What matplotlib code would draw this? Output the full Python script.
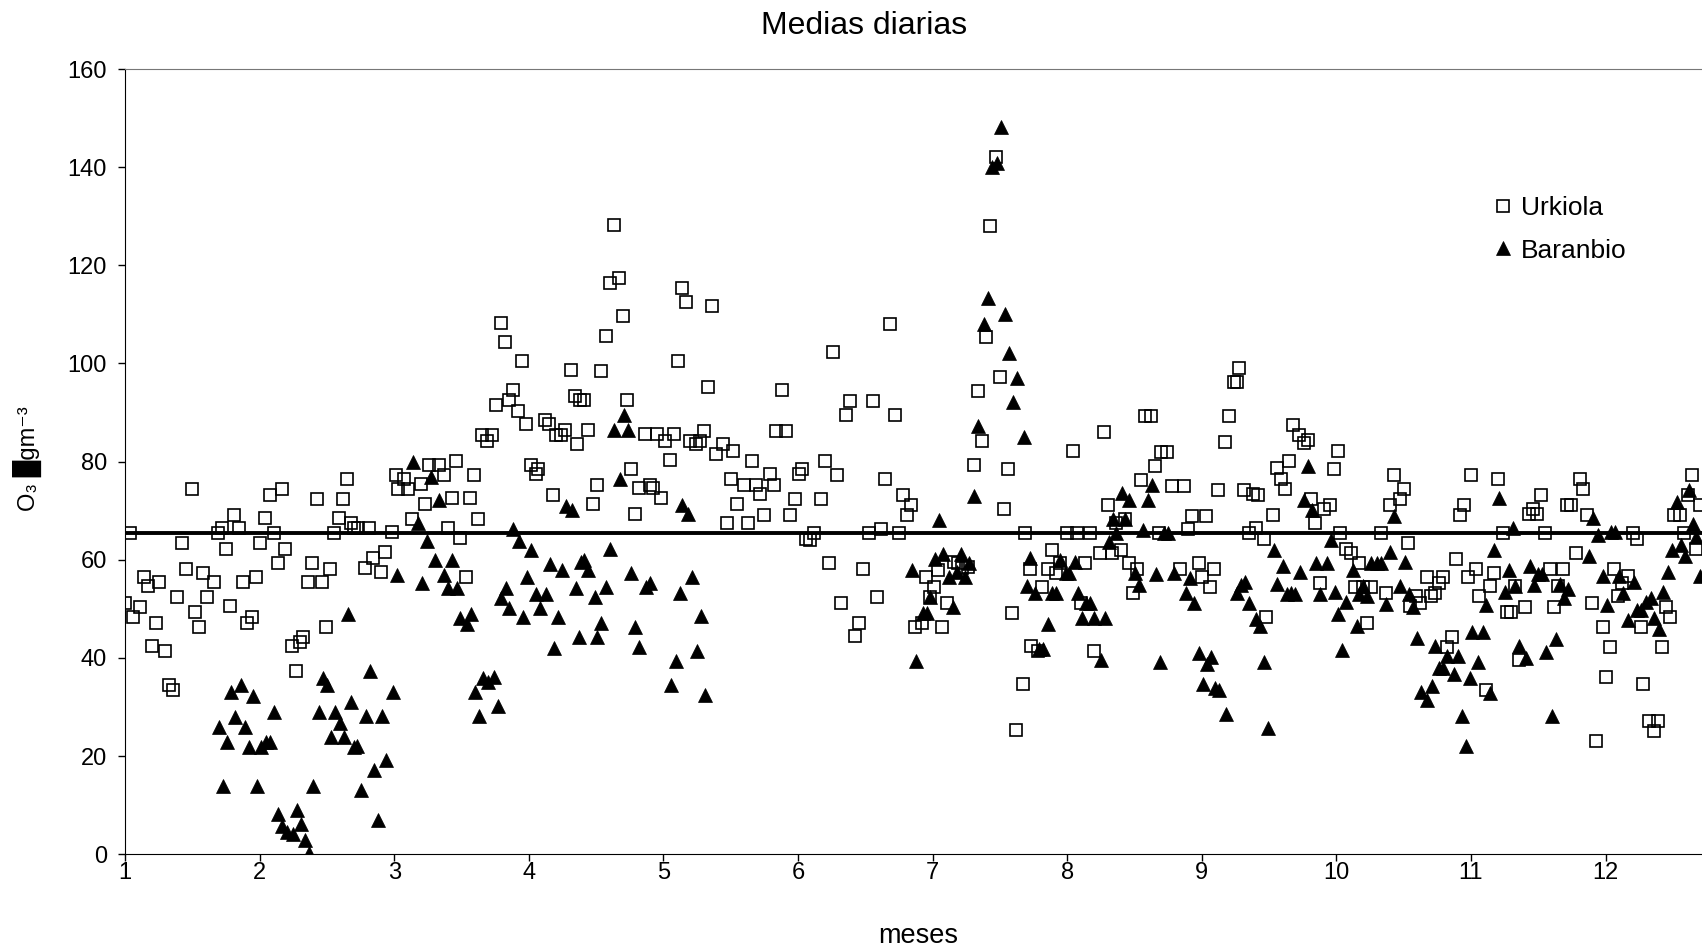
import numpy as np
import matplotlib
matplotlib.use("Agg")
import matplotlib.pyplot as plt

plt.rcParams['font.family'] = ['Liberation Sans', 'DejaVu Sans']

# Urkiola (cuadrados): mes (decimal) y O3 diario
urk_mes = [1.00, 1.04, 1.06, 1.11, 1.14, 1.17, 1.20, 1.23, 1.25, 1.30, 1.33, 1.36, 1.39, 1.42, 1.45,
           1.50, 1.52, 1.55, 1.58, 1.61, 1.66, 1.69, 1.72, 1.75, 1.78, 1.81, 1.85, 1.88, 1.91, 1.94,
           1.97, 2.00, 2.04, 2.08, 2.11, 2.14, 2.17, 2.19, 2.24, 2.27, 2.30, 2.32, 2.36, 2.39, 2.43,
           2.46, 2.49, 2.52, 2.55, 2.59, 2.62, 2.65, 2.68, 2.70, 2.73, 2.78, 2.81, 2.84, 2.90, 2.93,
           2.98, 3.01, 3.03, 3.07, 3.10, 3.13, 3.20, 3.23, 3.26, 3.33, 3.37, 3.40, 3.43, 3.46, 3.49,
           3.53, 3.56, 3.59, 3.62, 3.65, 3.69, 3.73, 3.76, 3.79, 3.82, 3.85, 3.88, 3.92, 3.95, 3.98,
           4.02, 4.05, 4.07, 4.12, 4.15, 4.18, 4.20, 4.24, 4.27, 4.31, 4.34, 4.36, 4.38, 4.41, 4.44,
           4.48, 4.51, 4.54, 4.57, 4.60, 4.63, 4.67, 4.70, 4.73, 4.76, 4.79, 4.82, 4.86, 4.90, 4.92,
           4.95, 4.98, 5.01, 5.05, 5.08, 5.11, 5.14, 5.17, 5.20, 5.24, 5.27, 5.30, 5.33, 5.36, 5.39,
           5.44, 5.47, 5.50, 5.52, 5.55, 5.60, 5.63, 5.66, 5.69, 5.72, 5.75, 5.79, 5.82, 5.84, 5.88,
           5.91, 5.94, 5.98, 6.01, 6.03, 6.06, 6.09, 6.12, 6.17, 6.20, 6.23, 6.26, 6.29, 6.32, 6.36,
           6.39, 6.42, 6.45, 6.48, 6.53, 6.56, 6.59, 6.62, 6.65, 6.68, 6.72, 6.75, 6.78, 6.81, 6.84,
           6.87, 6.92, 6.95, 6.98, 7.01, 7.04, 7.07, 7.11, 7.16, 7.19, 7.22, 7.26, 7.31, 7.34, 7.37,
           7.40, 7.43, 7.47, 7.50, 7.53, 7.56, 7.59, 7.62, 7.67, 7.69, 7.72, 7.73, 7.78, 7.81, 7.86,
           7.89, 7.92, 7.95, 8.00, 8.04, 8.07, 8.10, 8.13, 8.17, 8.20, 8.24, 8.27, 8.30, 8.33, 8.36,
           8.40, 8.43, 8.46, 8.49, 8.52, 8.55, 8.58, 8.62, 8.65, 8.68, 8.70, 8.74, 8.78, 8.84, 8.87,
           8.90, 8.93, 8.98, 9.00, 9.03, 9.06, 9.09, 9.12, 9.17, 9.20, 9.24, 9.26, 9.28, 9.31, 9.35,
           9.38, 9.40, 9.42, 9.46, 9.48, 9.53, 9.56, 9.59, 9.62, 9.65, 9.68, 9.72, 9.76, 9.79, 9.81,
           9.84, 9.88, 9.91, 9.95, 9.98, 10.01, 10.03, 10.07, 10.11, 10.14, 10.17, 10.20, 10.23, 10.26, 10.33,
           10.37, 10.40, 10.43, 10.47, 10.50, 10.53, 10.55, 10.59, 10.62, 10.67, 10.70, 10.73, 10.76, 10.79, 10.82,
           10.86, 10.89, 10.92, 10.95, 10.98, 11.00, 11.04, 11.06, 11.11, 11.14, 11.17, 11.20, 11.24, 11.27, 11.30,
           11.33, 11.36, 11.40, 11.43, 11.46, 11.49, 11.52, 11.55, 11.59, 11.62, 11.65, 11.68, 11.71, 11.74, 11.78,
           11.81, 11.83, 11.86, 11.90, 11.93, 11.98, 12.00, 12.03, 12.06, 12.09, 12.12, 12.17, 12.20, 12.23, 12.26,
           12.28, 12.32, 12.36, 12.39, 12.42, 12.45, 12.48, 12.51, 12.55, 12.58, 12.61, 12.64, 12.67, 12.70]
urk_o3 = [51.3, 65.5, 48.4, 50.4, 56.5, 54.6, 42.4, 47.1, 55.4, 41.4, 34.5, 33.4, 52.4, 63.4, 58.2,
          74.5, 49.3, 46.3, 57.4, 52.4, 55.4, 65.5, 66.5, 62.2, 50.5, 69.2, 66.5, 55.4, 47.2, 48.4,
          56.5, 63.4, 68.5, 73.3, 65.5, 59.4, 74.5, 62.2, 42.4, 37.3, 43.3, 44.3, 55.4, 59.4, 72.4,
          55.4, 46.3, 58.2, 65.5, 68.5, 72.4, 76.5, 67.5, 66.5, 66.5, 58.4, 66.5, 60.3, 57.5, 61.5,
          65.6, 77.3, 74.5, 76.4, 74.5, 68.4, 75.4, 71.3, 79.4, 79.4, 77.3, 66.5, 72.5, 80.2, 64.4,
          56.5, 72.5, 77.3, 68.4, 85.5, 84.3, 85.5, 91.6, 108.3, 104.3, 92.5, 94.5, 90.4, 100.5, 87.6,
          79.4, 77.5, 78.5, 88.5, 87.6, 73.3, 85.5, 85.5, 86.4, 98.6, 93.3, 83.5, 92.5, 92.5, 86.4,
          71.3, 75.3, 98.5, 105.5, 116.5, 128.3, 117.4, 109.6, 92.5, 78.6, 69.3, 74.6, 85.6, 75.3, 74.6,
          85.6, 72.5, 84.2, 80.3, 85.6, 100.5, 115.3, 112.5, 84.2, 83.5, 84.2, 86.3, 95.2, 111.7, 81.5,
          83.5, 67.6, 76.5, 82.2, 71.3, 75.3, 67.6, 80.1, 75.3, 73.4, 69.1, 77.4, 75.3, 86.3, 94.5,
          86.3, 69.1, 72.4, 77.4, 78.6, 64.3, 64.1, 65.5, 72.3, 80.1, 59.3, 102.4, 77.2, 51.3, 89.6,
          92.3, 44.5, 47.2, 58.1, 65.5, 92.3, 52.5, 66.3, 76.4, 108.1, 89.6, 65.5, 73.3, 69.2, 71.1,
          46.3, 47.2, 56.6, 52.5, 54.4, 57.9, 46.3, 51.3, 59.5, 59.3, 58.3, 58.5, 79.3, 94.3, 84.2,
          105.3, 128.1, 142.1, 97.2, 70.4, 78.5, 49.2, 25.3, 34.6, 65.5, 58.1, 42.4, 41.4, 54.4, 58.1,
          62.1, 57.4, 59.3, 65.5, 82.2, 65.5, 51.1, 59.3, 65.5, 41.4, 61.4, 86.1, 71.1, 61.4, 67.4,
          62.1, 68.4, 59.3, 53.2, 58.1, 76.3, 89.4, 89.4, 79.2, 65.5, 82.0, 82.0, 75.1, 58.1, 75.1,
          66.2, 69.0, 59.3, 56.4, 69.0, 54.4, 58.1, 74.3, 84.1, 89.4, 96.3, 96.3, 99.1, 74.3, 65.5,
          73.5, 66.4, 73.2, 64.3, 48.4, 69.2, 78.7, 76.5, 74.5, 80.2, 87.5, 85.5, 83.7, 84.4, 72.3,
          67.5, 55.3, 70.4, 71.2, 78.5, 82.2, 65.5, 62.2, 61.4, 54.5, 59.4, 54.5, 47.2, 54.5, 65.5,
          53.3, 71.2, 77.3, 72.4, 74.5, 63.5, 50.6, 52.6, 51.2, 56.5, 52.6, 53.3, 55.3, 56.5, 42.3,
          44.3, 60.2, 69.2, 71.2, 56.5, 77.3, 58.2, 52.6, 33.5, 54.6, 57.4, 76.5, 65.5, 49.3, 49.3,
          54.6, 39.6, 50.4, 69.3, 70.4, 69.3, 73.2, 65.5, 58.2, 50.4, 54.6, 58.2, 71.2, 71.2, 61.4,
          76.5, 74.5, 69.2, 51.2, 23.1, 46.4, 36.2, 42.3, 58.2, 52.6, 55.3, 56.7, 65.5, 64.3, 46.4,
          34.6, 27.2, 25.2, 27.2, 42.3, 50.4, 48.4, 69.2, 69.2, 65.5, 73.2, 77.3, 62.2, 71.2]

# Baranbio (triangulos)
bar_mes = [1.70, 1.73, 1.76, 1.79, 1.82, 1.86, 1.89, 1.92, 1.95, 1.98, 2.01, 2.05, 2.08, 2.11, 2.14,
           2.17, 2.20, 2.25, 2.28, 2.31, 2.34, 2.37, 2.40, 2.44, 2.47, 2.50, 2.53, 2.56, 2.60, 2.63,
           2.66, 2.68, 2.70, 2.72, 2.75, 2.79, 2.82, 2.85, 2.88, 2.91, 2.94, 2.99, 3.02, 3.14, 3.18,
           3.21, 3.24, 3.27, 3.30, 3.33, 3.37, 3.40, 3.43, 3.47, 3.49, 3.54, 3.57, 3.60, 3.63, 3.66,
           3.70, 3.74, 3.77, 3.79, 3.83, 3.85, 3.88, 3.93, 3.96, 3.99, 4.02, 4.05, 4.08, 4.13, 4.16,
           4.19, 4.22, 4.25, 4.28, 4.32, 4.35, 4.37, 4.39, 4.41, 4.44, 4.49, 4.51, 4.54, 4.57, 4.60,
           4.63, 4.68, 4.71, 4.74, 4.76, 4.79, 4.82, 4.87, 4.90, 5.06, 5.09, 5.12, 5.14, 5.18, 5.21,
           5.25, 5.28, 5.31, 6.85, 6.88, 6.93, 6.96, 6.98, 7.02, 7.05, 7.08, 7.12, 7.15, 7.18, 7.21,
           7.24, 7.27, 7.31, 7.34, 7.38, 7.41, 7.44, 7.48, 7.51, 7.54, 7.57, 7.60, 7.63, 7.68, 7.70,
           7.72, 7.76, 7.79, 7.82, 7.86, 7.89, 7.92, 7.95, 7.99, 8.01, 8.06, 8.08, 8.11, 8.14, 8.17,
           8.20, 8.25, 8.28, 8.31, 8.34, 8.36, 8.41, 8.43, 8.46, 8.50, 8.53, 8.56, 8.60, 8.63, 8.66,
           8.69, 8.72, 8.75, 8.79, 8.88, 8.91, 8.94, 8.98, 9.01, 9.04, 9.07, 9.10, 9.13, 9.18, 9.26,
           9.29, 9.32, 9.35, 9.40, 9.43, 9.46, 9.49, 9.54, 9.56, 9.60, 9.63, 9.66, 9.69, 9.73, 9.76,
           9.79, 9.82, 9.85, 9.88, 9.93, 9.96, 9.99, 10.01, 10.04, 10.07, 10.12, 10.15, 10.17, 10.20, 10.23,
           10.26, 10.30, 10.33, 10.37, 10.40, 10.43, 10.47, 10.51, 10.54, 10.57, 10.60, 10.63, 10.67, 10.71, 10.73,
           10.76, 10.79, 10.82, 10.87, 10.90, 10.93, 10.96, 10.99, 11.01, 11.05, 11.09, 11.11, 11.14, 11.17, 11.21,
           11.25, 11.28, 11.31, 11.33, 11.36, 11.41, 11.44, 11.47, 11.50, 11.53, 11.56, 11.60, 11.63, 11.66, 11.69,
           11.72, 11.88, 11.91, 11.94, 11.98, 12.01, 12.04, 12.07, 12.10, 12.13, 12.17, 12.21, 12.23, 12.26, 12.30,
           12.34, 12.36, 12.40, 12.43, 12.46, 12.49, 12.53, 12.56, 12.59, 12.62, 12.65, 12.67, 12.70]
bar_o3 = [26.0, 13.9, 22.8, 33.0, 28.0, 34.4, 26.0, 21.9, 32.3, 13.9, 21.9, 22.8, 22.8, 28.9, 8.2,
          5.8, 4.6, 4.1, 9.0, 6.1, 2.9, 0.2, 13.9, 28.9, 35.9, 34.4, 24.0, 28.9, 26.7, 24.0,
          48.9, 31.0, 21.9, 22.1, 13.2, 28.2, 37.3, 17.2, 7.0, 28.2, 19.2, 33.1, 57.0, 79.9, 67.4,
          55.2, 63.9, 76.9, 59.9, 72.1, 57.0, 54.3, 59.9, 54.3, 48.1, 46.9, 49.0, 33.1, 28.2, 35.9,
          35.2, 36.1, 30.3, 52.3, 54.3, 50.2, 66.2, 63.9, 48.3, 56.4, 62.0, 53.1, 50.2, 53.1, 59.1,
          42.1, 48.3, 57.9, 71.0, 70.2, 54.3, 44.2, 59.6, 60.0, 58.0, 52.5, 44.2, 47.1, 54.5, 62.2,
          86.4, 76.5, 89.5, 86.4, 57.3, 46.3, 42.2, 54.5, 55.2, 34.4, 39.4, 53.3, 71.2, 69.3, 56.6,
          41.5, 48.5, 32.4, 57.9, 39.3, 49.2, 49.2, 52.5, 60.1, 68.2, 61.2, 56.4, 50.3, 57.5, 61.2,
          56.4, 59.3, 73.1, 87.3, 108.1, 113.3, 140.1, 140.9, 148.1, 110.0, 102.2, 92.1, 97.0, 85.1, 54.6,
          60.4, 53.3, 41.9, 41.9, 46.9, 53.3, 53.3, 60.0, 57.4, 57.4, 59.5, 53.3, 48.2, 51.3, 51.3,
          48.2, 39.5, 48.2, 63.6, 68.4, 65.5, 73.6, 68.4, 72.1, 57.4, 54.8, 66.0, 72.1, 75.3, 57.1,
          39.2, 65.5, 65.5, 57.4, 53.3, 56.2, 51.3, 41.1, 34.6, 38.7, 40.3, 33.8, 33.4, 28.5, 53.2,
          54.8, 55.5, 51.3, 48.0, 46.5, 39.2, 25.7, 62.0, 55.1, 58.7, 53.0, 53.3, 53.0, 57.5, 72.2,
          79.1, 70.1, 59.4, 53.0, 59.3, 64.0, 53.4, 48.9, 41.7, 51.4, 57.9, 46.5, 53.0, 54.6, 52.6,
          59.3, 59.3, 59.3, 51.0, 61.6, 68.9, 54.6, 59.5, 53.0, 50.3, 44.1, 33.1, 31.4, 34.3, 42.4,
          37.9, 37.9, 40.4, 36.7, 40.4, 28.2, 22.1, 35.9, 45.3, 39.2, 45.3, 50.8, 32.8, 62.0, 72.6,
          53.4, 57.9, 66.5, 54.6, 42.4, 40.0, 58.7, 54.9, 57.1, 57.1, 41.2, 28.2, 43.8, 55.1, 52.3,
          54.1, 60.8, 68.5, 65.1, 56.7, 50.8, 65.6, 65.6, 56.7, 53.3, 47.7, 55.5, 49.8, 49.8, 51.4,
          52.2, 48.1, 46.0, 53.4, 57.5, 62.0, 71.7, 63.1, 60.8, 74.3, 67.3, 64.7, 56.7]

media_anual = 65.5
meses = list(range(1, 13))
yticks = list(range(0, 161, 20))

fig = plt.figure(figsize=(17.02, 9.52), dpi=100)
ax = fig.add_axes([125 / 1702, 1 - 854.3 / 952, 1577 / 1702, (854.3 - 69) / 952])

ax.plot(urk_mes, urk_o3, linestyle='none', marker='s', markersize=8,
        markerfacecolor='none', markeredgecolor='black', markeredgewidth=1.2, label='Urkiola')
ax.plot(bar_mes, bar_o3, linestyle='none', marker='^', markersize=9.5,
        markerfacecolor='black', markeredgecolor='black', markeredgewidth=0.5, label='Baranbio')
ax.axhline(media_anual, color='black', linewidth=2.8)

ax.set_xlim(1, 1 + 1577 / 134.6)
ax.set_ylim(0, 160)
ax.set_xticks(meses)
ax.set_yticks(yticks)
ax.tick_params(direction='out', length=5, width=1, labelsize=17, colors='black')
ax.tick_params(axis='x', pad=0.5)
ax.tick_params(axis='y', pad=8)
ax.spines['right'].set_visible(False)
ax.spines['top'].set_color('#777777')
for s in ['left', 'bottom']:
    ax.spines[s].set_color('black')

leg = ax.legend(loc='upper left', bbox_to_anchor=(0.8675, 0.838), frameon=False, fontsize=19,
                borderpad=0, borderaxespad=0, handlelength=0.75, handletextpad=0.3,
                labelspacing=0.7, markerscale=1.0)

fig.text(864 / 1702, 1 - 26 / 952, 'Medias diarias', ha='center', va='center', fontsize=23)
fig.text(918 / 1702, 1 - 936 / 952, 'meses', ha='center', va='center', fontsize=19.5)
fig.text(27 / 1702, 1 - 459 / 952, 'O₃ █gm⁻³', ha='center', va='center', rotation=90,
         fontsize=17)

fig.savefig('out.png', dpi=100)
